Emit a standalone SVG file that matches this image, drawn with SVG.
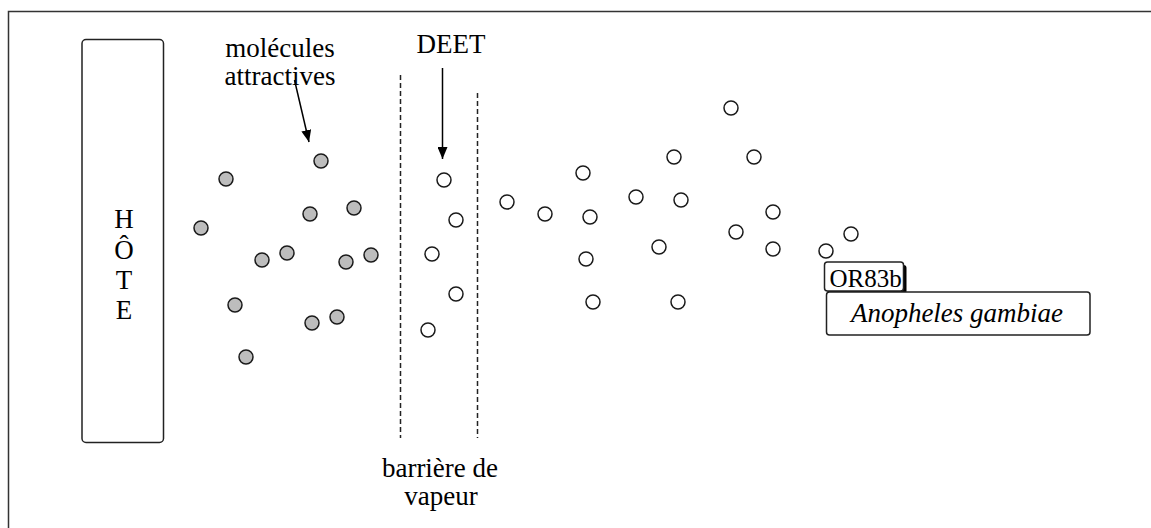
<svg xmlns="http://www.w3.org/2000/svg" width="1151" height="528" viewBox="0 0 1151 528">
<defs>
<style>
text{font-family:"Liberation Serif","Times New Roman",Times,serif;font-size:27px;fill:#000}
.box{fill:#fff;stroke:#222;stroke-width:1.5}
.g{fill:#bdbdbd;stroke:#1a1a1a;stroke-width:1.5}
.w{fill:#fff;stroke:#1a1a1a;stroke-width:1.5}
.dash{stroke:#222;stroke-width:1.5;stroke-dasharray:5,3;fill:none}
.arr{stroke:#000;stroke-width:1.5;fill:none;marker-end:url(#ah)}
</style>
<marker id="ah" viewBox="0 0 12 10" refX="12" refY="5" markerWidth="12" markerHeight="10" markerUnits="userSpaceOnUse" orient="auto">
<path d="M0,0 L12,5 L0,10 z" fill="#000"/>
</marker>
</defs>
<rect width="1151" height="528" fill="#fff"/>
<rect x="8.5" y="11.5" width="1160" height="540" fill="none" stroke="#333" stroke-width="1.5"/>

<g id="hote">
<rect class="box" x="82" y="39.5" width="81.5" height="403" rx="4"/>
<text x="124" text-anchor="middle"><tspan x="124" y="228">H</tspan><tspan x="124" y="259">Ô</tspan><tspan x="124" y="289">T</tspan><tspan x="124" y="319">E</tspan></text>
</g>

<g id="label-molecules">
<text text-anchor="middle"><tspan x="280" y="57">molécules</tspan><tspan x="280" y="85">attractives</tspan></text>
</g>

<g id="label-deet">
<text x="451" y="53" text-anchor="middle">DEET</text>
</g>

<g id="label-barriere">
<text text-anchor="middle"><tspan x="440" y="477">barrière de</tspan><tspan x="441" y="505">vapeur</tspan></text>
</g>

<g id="barrier">
<line class="dash" x1="400.5" y1="75" x2="400.5" y2="438"/>
<line class="dash" x1="477.5" y1="93" x2="477.5" y2="438"/>
</g>

<g id="connectors">
<line class="arr" x1="294.5" y1="80" x2="309" y2="142"/>
<line class="arr" x1="442.5" y1="68" x2="442.5" y2="159"/>
</g>

<g id="attractive-molecules">
<circle class="g" cx="321" cy="161" r="7"/>
<circle class="g" cx="226" cy="179" r="7"/>
<circle class="g" cx="310" cy="214" r="7"/>
<circle class="g" cx="354" cy="208" r="7"/>
<circle class="g" cx="201" cy="228" r="7"/>
<circle class="g" cx="262" cy="260" r="7"/>
<circle class="g" cx="287" cy="253" r="7"/>
<circle class="g" cx="346" cy="262" r="7"/>
<circle class="g" cx="371" cy="255" r="7"/>
<circle class="g" cx="235" cy="305" r="7"/>
<circle class="g" cx="312" cy="323" r="7"/>
<circle class="g" cx="337" cy="317" r="7"/>
<circle class="g" cx="246" cy="357" r="7"/>
</g>

<g id="deet-molecules">
<circle class="w" cx="444" cy="180" r="7"/>
<circle class="w" cx="456" cy="220" r="7"/>
<circle class="w" cx="432" cy="254" r="7"/>
<circle class="w" cx="456" cy="294" r="7"/>
<circle class="w" cx="428" cy="330" r="7"/>
<circle class="w" cx="507" cy="202" r="7"/>
<circle class="w" cx="545" cy="214" r="7"/>
<circle class="w" cx="583" cy="173" r="7"/>
<circle class="w" cx="590" cy="217" r="7"/>
<circle class="w" cx="586" cy="259" r="7"/>
<circle class="w" cx="593" cy="302" r="7"/>
<circle class="w" cx="674" cy="157" r="7"/>
<circle class="w" cx="636" cy="197" r="7"/>
<circle class="w" cx="681" cy="200" r="7"/>
<circle class="w" cx="659" cy="247" r="7"/>
<circle class="w" cx="678" cy="302" r="7"/>
<circle class="w" cx="731" cy="108" r="7"/>
<circle class="w" cx="754" cy="157" r="7"/>
<circle class="w" cx="773" cy="212" r="7"/>
<circle class="w" cx="736" cy="232" r="7"/>
<circle class="w" cx="773" cy="249" r="7"/>
<circle class="w" cx="851" cy="234" r="7"/>
<circle class="w" cx="826" cy="251" r="7"/>
</g>

<g id="or83b">
<rect x="827.5" y="265" width="79" height="29" rx="3" fill="#000"/>
<rect class="box" x="824.5" y="262" width="79" height="29" rx="3"/>
<text x="829.5" y="287" style="font-size:25px">OR83b</text>
</g>

<g id="anopheles">
<rect class="box" x="826.5" y="292" width="263.5" height="43" rx="3"/>
<text x="957" y="322" text-anchor="middle" font-style="italic">Anopheles gambiae</text>
</g>
</svg>
